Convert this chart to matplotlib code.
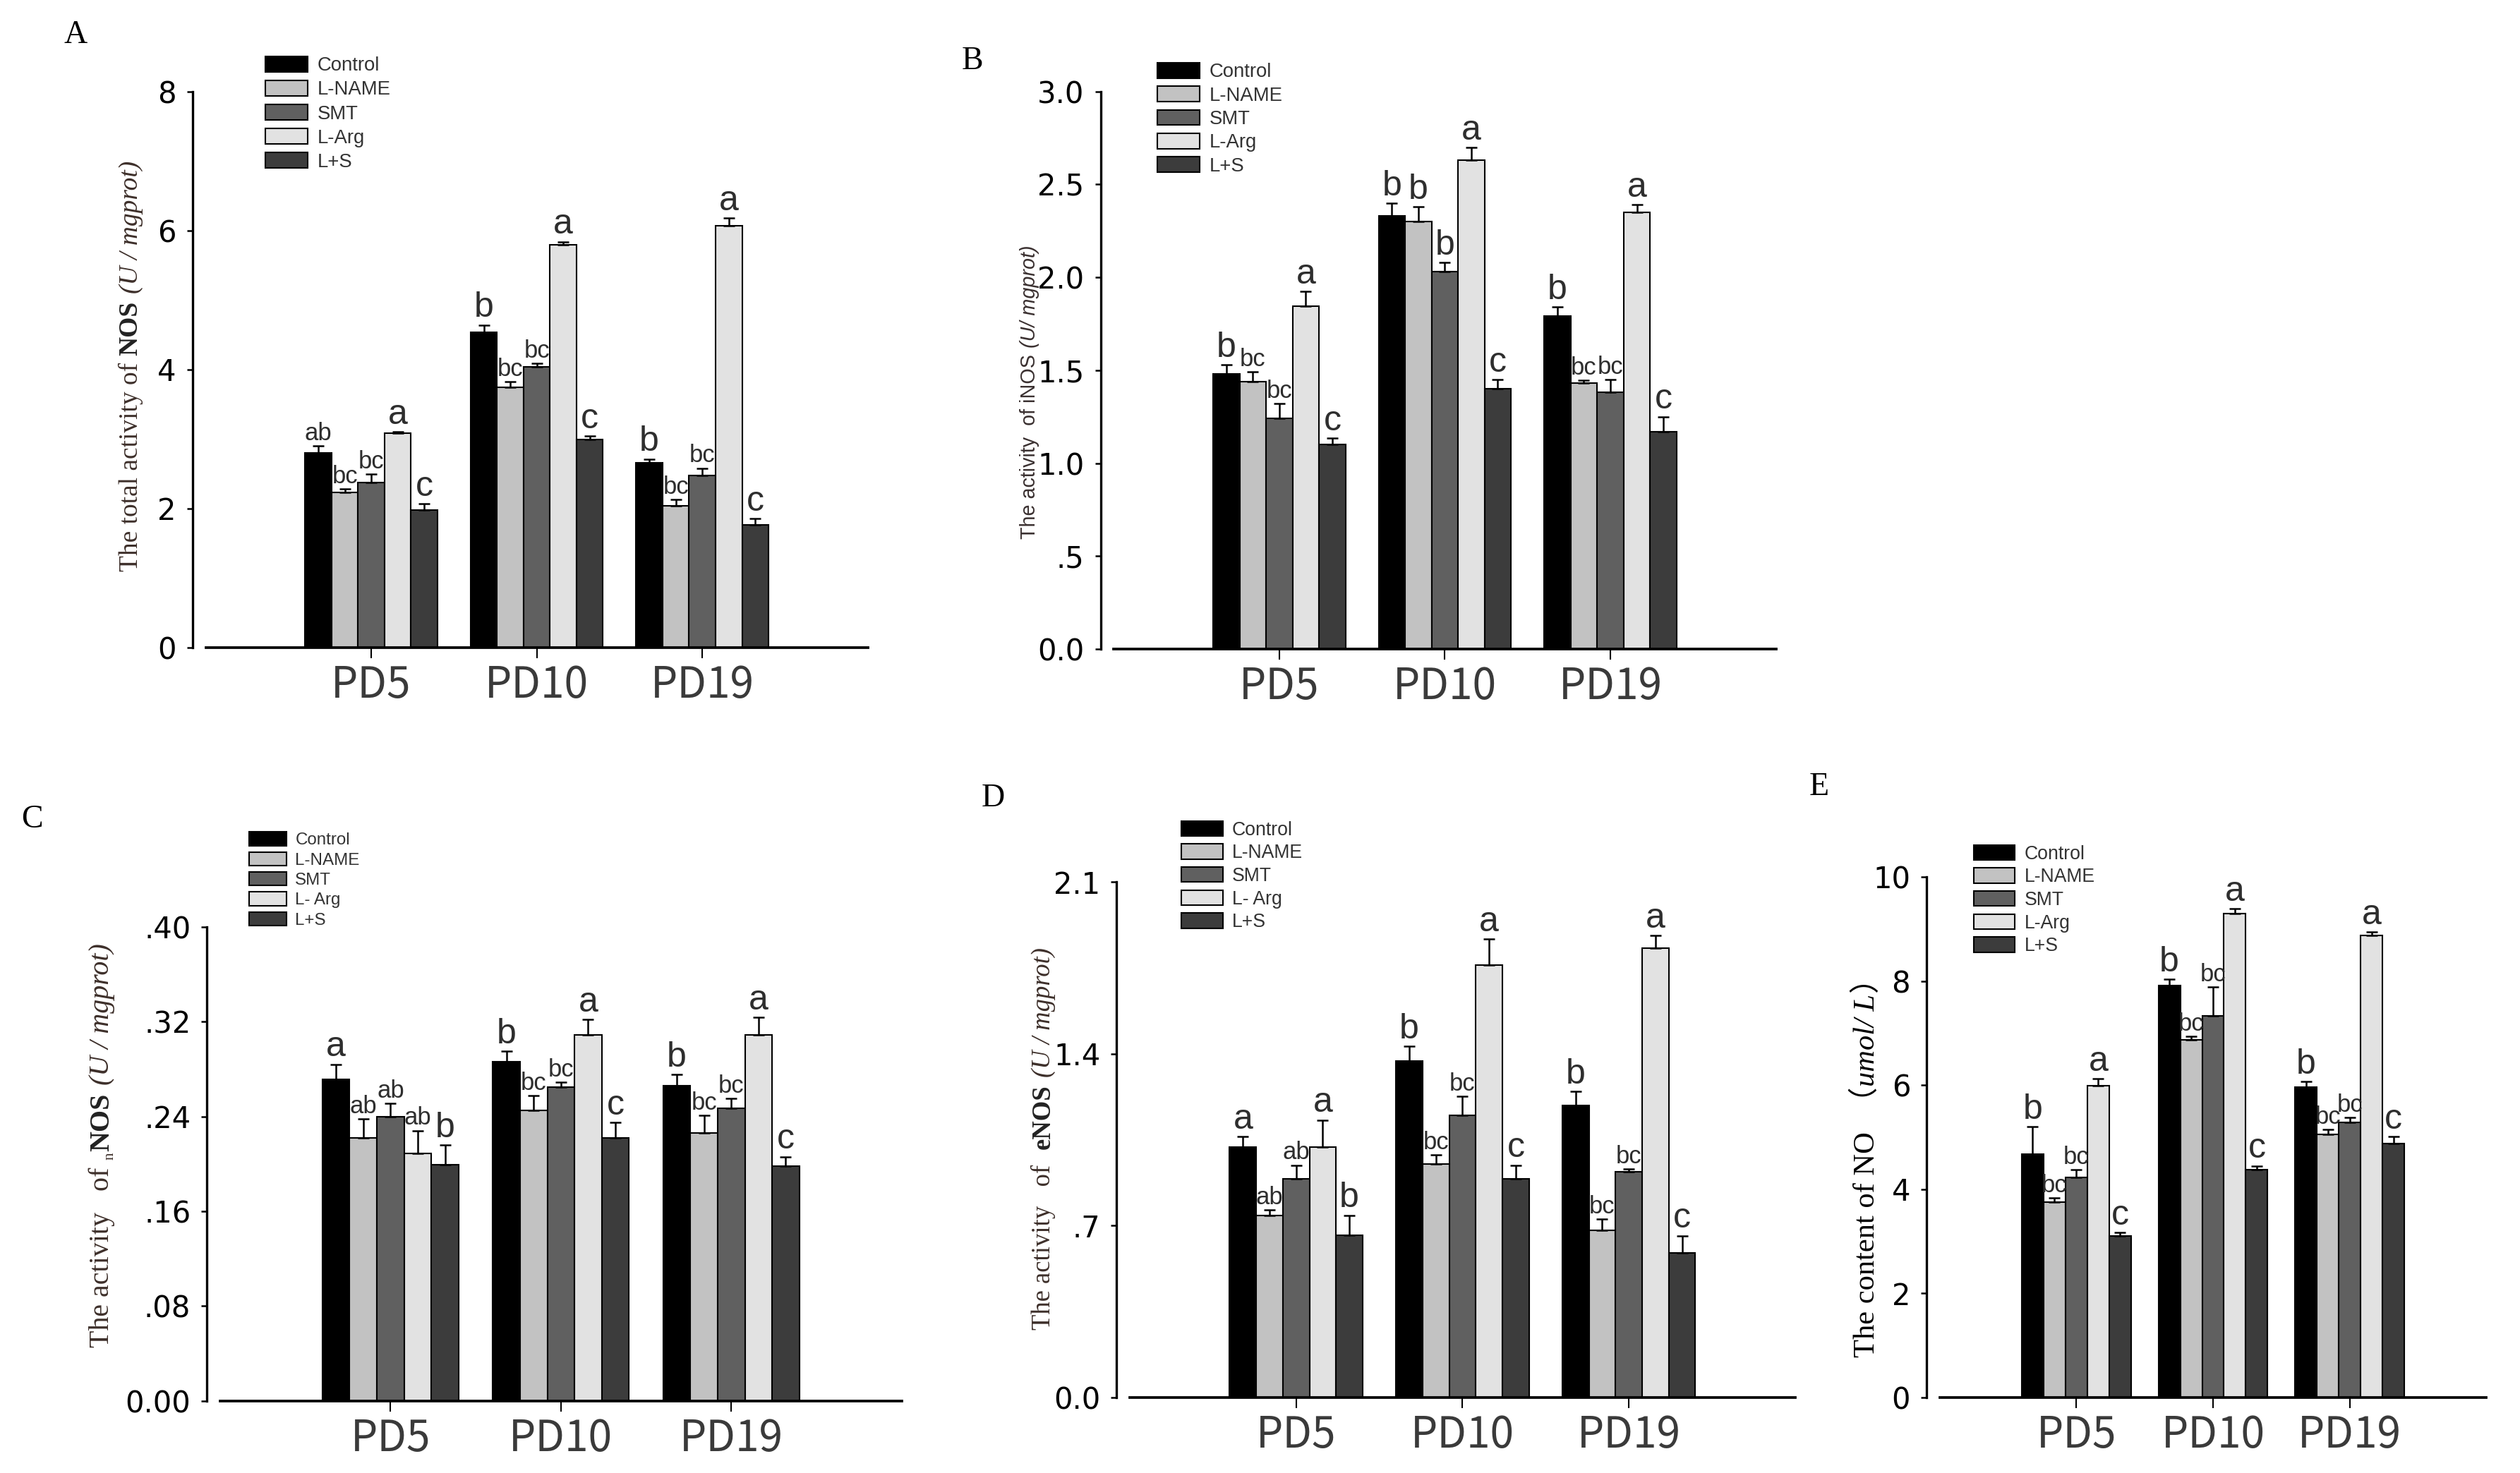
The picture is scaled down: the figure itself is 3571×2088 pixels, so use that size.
import matplotlib
matplotlib.use("Agg")
import matplotlib.pyplot as plt
import numpy as np

groups = ["PD5", "PD10", "PD19"]
treatments = ["Control", "L-NAME", "SMT", "L-Arg", "L+S"]
treatments_cd = ["Control", "L-NAME", "SMT", "L- Arg", "L+S"]
bar_colors = ["#000000", "#c2c2c2", "#606060", "#e2e2e2", "#3c3c3c"]

# values per treatment, columns = PD5, PD10, PD19
total_nos = [[2.80, 4.54, 2.66], [2.23, 3.74, 2.04], [2.37, 4.04, 2.47],
             [3.08, 5.79, 6.07], [1.98, 2.99, 1.76]]
total_nos_err = [[0.10, 0.10, 0.05], [0.05, 0.08, 0.09], [0.12, 0.05, 0.11],
                 [0.02, 0.05, 0.11], [0.09, 0.05, 0.09]]
total_nos_sig = [["ab", "bc", "bc", "a", "c"], ["b", "bc", "bc", "a", "c"],
                 ["b", "bc", "bc", "a", "c"]]

inos = [[1.48, 2.33, 1.79], [1.44, 2.30, 1.43], [1.24, 2.03, 1.38],
        [1.845, 2.63, 2.35], [1.10, 1.40, 1.17]]
inos_err = [[0.05, 0.07, 0.05], [0.05, 0.08, 0.015], [0.08, 0.05, 0.07],
            [0.08, 0.07, 0.04], [0.035, 0.05, 0.08]]
inos_sig = [["b", "bc", "bc", "a", "c"], ["b", "b", "b", "a", "c"],
            ["b", "bc", "bc", "a", "c"]]

nnos = [[0.271, 0.286, 0.266], [0.222, 0.245, 0.226], [0.240, 0.265, 0.247],
        [0.209, 0.309, 0.309], [0.199, 0.222, 0.198]]
nnos_err = [[0.013, 0.009, 0.0095], [0.016, 0.0125, 0.015], [0.011, 0.004, 0.008],
            [0.019, 0.013, 0.0145], [0.017, 0.013, 0.008]]
nnos_sig = [["a", "ab", "ab", "ab", "b"], ["b", "bc", "bc", "a", "c"],
            ["b", "bc", "bc", "a", "c"]]

enos = [[1.02, 1.37, 1.19], [0.74, 0.95, 0.68], [0.89, 1.15, 0.92],
        [1.02, 1.76, 1.83], [0.66, 0.89, 0.59]]
enos_err = [[0.043, 0.061, 0.056], [0.024, 0.037, 0.047], [0.056, 0.076, 0.01],
            [0.11, 0.108, 0.052], [0.082, 0.056, 0.069]]
enos_sig = [["a", "ab", "ab", "a", "b"], ["b", "bc", "bc", "a", "c"],
            ["b", "bc", "bc", "a", "c"]]

no_content = [[4.68, 7.92, 5.96], [3.76, 6.87, 5.06], [4.23, 7.33, 5.28],
              [5.99, 9.30, 8.88], [3.11, 4.38, 4.88]]
no_content_err = [[0.52, 0.12, 0.11], [0.07, 0.07, 0.09], [0.15, 0.56, 0.10],
                  [0.13, 0.09, 0.06], [0.06, 0.07, 0.13]]
no_content_sig = [["b", "bc", "bc", "a", "c"], ["b", "bc", "bc", "a", "c"],
                  ["b", "bc", "bc", "a", "c"]]

SANS = ['Liberation Sans', 'DejaVu Sans']
SERIF = ['Liberation Serif', 'DejaVu Serif']
SERIF_CJK = ['Liberation Serif', 'Noto Sans CJK SC', 'DejaVu Serif']
CJK = ['Noto Sans CJK SC', 'DejaVu Sans']
W, H = 1568.0, 917.0  # layout measured on the small preview
DPI = 300


def fx(px):
    return px / W


def fy(py):
    return 1 - py / H


def stacked_label(fig, xc, yc, parts):
    # vertical label built from pieces with different styles, read bottom to top
    r = fig.canvas.get_renderer()
    fw, fh = fig.get_size_inches() * DPI
    texts, lens, gaps = [], [], []
    for s, kw, gap, dx in parts:
        t = fig.text(0, 0, s, rotation=90, rotation_mode='anchor', ha='left',
                     va='baseline', **kw)
        texts.append(t)
        lens.append(t.get_window_extent(r).height)
        gaps.append(gap * kw['fontsize'] * DPI / 72)
    total = sum(lens) + sum(gaps)
    y = yc * fh - total / 2
    fs0 = parts[0][1]['fontsize']
    xb = xc * fw + 0.33 * fs0 * DPI / 72
    for t, ln, g, p in zip(texts, lens, gaps, parts):
        y += g
        t.set_position(((xb + p[3] * DPI / 72) / fw, y / fh))
        y += ln


def panel(fig, rect, vals, errs, sig, ymax, ticks, ticklabels, labels,
          leg_xy, leg_fs, leg_space, ylabel_parts, ylabel_xy, tag, tag_xy):
    ax = fig.add_axes(rect)
    x = np.arange(len(groups))
    w = 0.16
    for j in range(len(vals)):
        xs = x + (j - 2) * w
        ax.bar(xs, vals[j], width=w, color=bar_colors[j], edgecolor='black',
               linewidth=0.5, label=labels[j], zorder=2)
        ax.errorbar(xs, vals[j], yerr=[np.zeros(3), errs[j]], fmt='none',
                    ecolor='black', elinewidth=0.6, capsize=2.0, capthick=0.6, zorder=3)
        for i in range(len(groups)):
            s = sig[i][j]
            big = len(s) == 1
            ax.annotate(s, (xs[i], vals[j][i] + errs[j][i]), xytext=(0, 0.3),
                        textcoords='offset points', ha='center', va='bottom',
                        fontsize=12 if big else 8.3, color='#2e2e2e', family=SANS)
    ax.set_xlim(-1, 3)
    ax.set_ylim(0, ymax)
    ax.set_xticks(x)
    ax.set_xticklabels(groups, fontsize=14.5, color='#3a3a3a', family=CJK,
                       fontweight='light')
    ax.set_yticks(ticks)
    ax.set_yticklabels(ticklabels, fontsize=6, color='#333333', family=SANS)
    ax.tick_params(axis='x', direction='out', length=3.5, width=0.5, pad=2)
    ax.tick_params(axis='y', direction='out', length=2.0, width=0.6, pad=3.5)
    for s in ['top', 'right']:
        ax.spines[s].set_visible(False)
    ax.spines['left'].set_position(('outward', 4.5))
    ax.spines['left'].set_linewidth(0.8)
    ax.spines['bottom'].set_linewidth(0.9)

    ax.legend(loc='upper left', bbox_to_anchor=leg_xy, bbox_transform=fig.transFigure,
              frameon=False, borderpad=0, borderaxespad=0, handlelength=2.2,
              handleheight=0.85, handletextpad=0.5, labelspacing=leg_space,
              prop={'family': SANS, 'size': leg_fs}, labelcolor='#333333')

    stacked_label(fig, ylabel_xy[0], ylabel_xy[1], ylabel_parts)
    fig.text(tag_xy[0], tag_xy[1], tag, ha='center', va='center', fontsize=11,
             family=SERIF)
    return ax


def serif(size, color='#3d2f2a', **kw):
    return dict(fontsize=size, color=color, family=SERIF, **kw)


def sans(size, color='#3a3030', **kw):
    return dict(fontsize=size, color=color, family=SANS, **kw)


label_a = [("The total activity of", serif(9), 0, 0),
           ("NOS", serif(9, fontweight='bold', color='#222222'), 0.28, 0),
           ("(U / mgprot)", serif(9, style='italic'), 0.28, 0)]
label_b = [("The activity  of iNOS", sans(6.9), 0, 0),
           ("(U/ mgprot)", sans(6.9, style='italic'), 0.3, 0)]
label_c = [("The activity   of", serif(9.6), 0, 0),
           ("n", serif(5), 0.5, 1.5),
           ("NOS", serif(9.6, fontweight='bold', color='#222222'), 0.05, 0),
           ("(U / mgprot)", serif(9.6, style='italic'), 0.28, 0)]
label_d = [("The activity   of", serif(8.8), 0, 0),
           ("eNOS", serif(8.8, fontweight='bold', color='#222222'), 0.6, 0),
           ("(U / mgprot)", serif(8.8, style='italic'), 0.28, 0)]
label_e = [("The content of NO  （", dict(fontsize=10.2, color='black', family=SERIF_CJK), 0, 0),
           ("umol/ L", serif(10.2, color='black', style='italic'), 0.0, 0),
           ("）", dict(fontsize=10.2, color='black', family=SERIF_CJK), 0.05, 0)]

fig = plt.figure(figsize=(3571 / DPI, 2088 / DPI), dpi=DPI)

panel(fig, [fx(128), fy(403), fx(412), (403 - 57) / H], total_nos, total_nos_err,
      total_nos_sig, 8, [0, 2, 4, 6, 8], ["0", "2", "4", "6", "8"], treatments,
      (fx(165), fy(35)), 6.6, 0.28, label_a, (fx(80), fy(228)), "A", (fx(47), fy(22)))

panel(fig, [fx(693), fy(404), fx(412), (404 - 57) / H], inos, inos_err, inos_sig,
      3.0, [0, 0.5, 1.0, 1.5, 2.0, 2.5, 3.0],
      ["0.0", ".5", "1.0", "1.5", "2.0", "2.5", "3.0"], treatments,
      (fx(720), fy(39)), 6.6, 0.25, label_b, (fx(640), fy(244)), "B", (fx(605), fy(38)))

panel(fig, [fx(137), fy(872), fx(424), (872 - 577) / H], nnos, nnos_err, nnos_sig,
      0.40, [0, 0.08, 0.16, 0.24, 0.32, 0.40],
      ["0.00", ".08", ".16", ".24", ".32", ".40"], treatments_cd,
      (fx(155), fy(518)), 5.8, 0.22, label_c, (fx(62), fy(713)), "C", (fx(20), fy(510)))

panel(fig, [fx(703), fy(870), fx(414), (870 - 549) / H], enos, enos_err, enos_sig,
      2.1, [0, 0.7, 1.4, 2.1], ["0.0", ".7", "1.4", "2.1"], treatments_cd,
      (fx(735), fy(511)), 6.4, 0.25, label_d, (fx(648), fy(709)), "D", (fx(618), fy(497)))

panel(fig, [fx(1207), fy(870), fx(340), (870 - 546) / H], no_content, no_content_err,
      no_content_sig, 10, [0, 2, 4, 6, 8, 10], ["0", "2", "4", "6", "8", "10"],
      treatments, (fx(1228), fy(526)), 6.4, 0.25, label_e, (fx(1160), fy(722)),
      "E", (fx(1132), fy(490)))

fig.savefig("out.png", dpi=DPI)
